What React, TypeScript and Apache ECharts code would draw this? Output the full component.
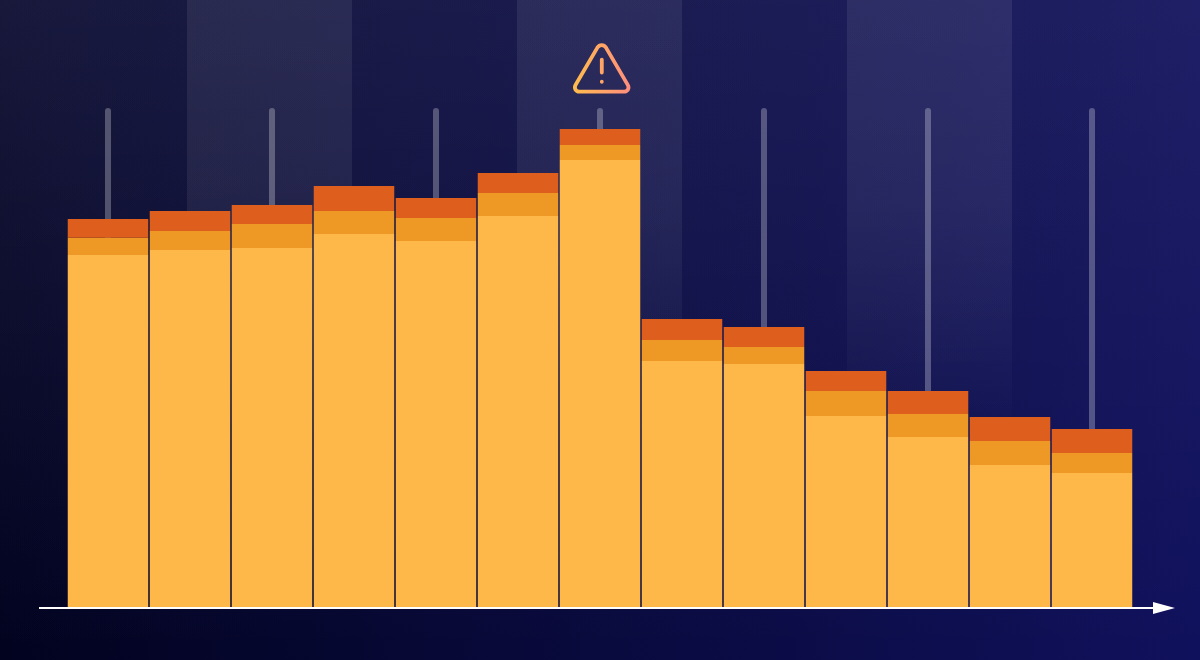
import React, { useEffect, useRef } from "react";
import * as echarts from "echarts";

const categories = ["1", "2", "3", "4", "5", "6", "7", "8", "9", "10", "11", "12", "13"];
const lowerSegment = [353, 358, 360, 374, 367, 392, 448, 247, 244, 192, 171, 143, 135];
const middleSegment = [17.3, 19, 24, 23, 23, 23, 15, 21, 17, 25, 23, 24, 20];
const upperSegment = [18.7, 20, 19, 25, 20, 20, 16, 21, 20, 20, 23, 24, 24];
const whiskers = [500, null, 500, null, 500, null, 500, null, 500, null, 500, null, 500];
const bandStarts = [187, 517, 847];

const warningPath =
  "M601.7 45.1 C603.4 45.1 605 46 606 47.6 L627.6 84.6 C629.8 88.2 627.6 91.6 624 91.6 L579.4 91.6 C575.8 91.6 573.6 88.2 575.8 84.6 L597.4 47.6 C598.4 46 600 45.1 601.7 45.1 Z M601.8 59.6 L601.8 72.6 M601.8 81.7 L601.8 81.8";

export default function App() {
  const ref = useRef<HTMLDivElement>(null);
  useEffect(() => {
    document.body.style.margin = "0";
    const chart = echarts.init(ref.current!, null, { renderer: "svg" });
    echarts.graphic.registerShape("warning", echarts.graphic.extendPath(warningPath, {}));
    const grad = (x: number, y: number, x2: number, y2: number, a: string, b: string) =>
      new echarts.graphic.LinearGradient(x, y, x2, y2, [
        { offset: 0, color: a },
        { offset: 1, color: b },
      ]);
    const bandFill = new echarts.graphic.LinearGradient(0, 0, 0, 1, [
      { offset: 0, color: "rgba(255,255,255,0.075)" },
      { offset: 0.45, color: "rgba(255,255,255,0.066)" },
      { offset: 0.7, color: "rgba(255,255,255,0.04)" },
      { offset: 1, color: "rgba(255,255,255,0)" },
    ]);
    chart.setOption({
      animation: false,
      backgroundColor: grad(0, 0, 1, 0, "#02031f", "#10115c"),
      grid: { left: 67, width: 1066, top: 0, height: 608 },
      xAxis: [
        { type: "category", data: categories, show: false },
        { type: "category", data: categories, show: false },
      ],
      yAxis: { type: "value", min: 0, max: 608, show: false },
      graphic: {
        elements: [
          {
            type: "rect",
            z: 0,
            shape: { x: 0, y: 0, width: 1200, height: 660 },
            style: { fill: grad(0, 0, 0, 1, "rgba(255,255,255,0.06)", "rgba(255,255,255,0)") },
          },
          {
            type: "rect",
            z: 0,
            shape: { x: 0, y: 0, width: 1200, height: 660 },
            style: {
              fill: new echarts.graphic.RadialGradient(0, 0, 1, [
                { offset: 0, color: "rgba(110,110,255,0.07)" },
                { offset: 1, color: "rgba(110,110,255,0)" },
              ]),
            },
          },
          ...bandStarts.map((x) => ({
            type: "rect",
            z: 0,
            shape: { x, y: 0, width: 165, height: 440 },
            style: { fill: bandFill },
          })),
          {
            type: "line",
            z: 10,
            shape: { x1: 39, y1: 608, x2: 1156, y2: 608 },
            style: { stroke: "#ffffff", lineWidth: 2 },
          },
          {
            type: "polygon",
            z: 10,
            shape: { points: [[1153, 602], [1175, 608], [1153, 614]] },
            style: { fill: "#ffffff" },
          },
          {
            type: "warning",
            z: 10,
            style: {
              fill: "none",
              stroke: grad(0, 0, 1, 0, "#ffbb4e", "#ff8f7c"),
              lineWidth: 3.8,
              lineCap: "round",
              lineJoin: "round",
            },
          },
        ],
      },
      series: [
        {
          type: "bar",
          xAxisIndex: 1,
          data: whiskers,
          barWidth: 6,
          z: 1,
          itemStyle: { color: "rgba(255,255,255,0.27)", borderRadius: [3, 3, 0, 0] },
        },
        { type: "bar", stack: "s", data: lowerSegment, barWidth: 80.5, z: 2, itemStyle: { color: "#fdb849" } },
        { type: "bar", stack: "s", data: middleSegment, barWidth: 80.5, z: 2, itemStyle: { color: "#ee9826" } },
        { type: "bar", stack: "s", data: upperSegment, barWidth: 80.5, z: 2, itemStyle: { color: "#de5f1d" } },
      ],
    });
    return () => chart.dispose();
  }, []);
  return <div ref={ref} style={{ width: 1200, height: 660 }} />;
}
